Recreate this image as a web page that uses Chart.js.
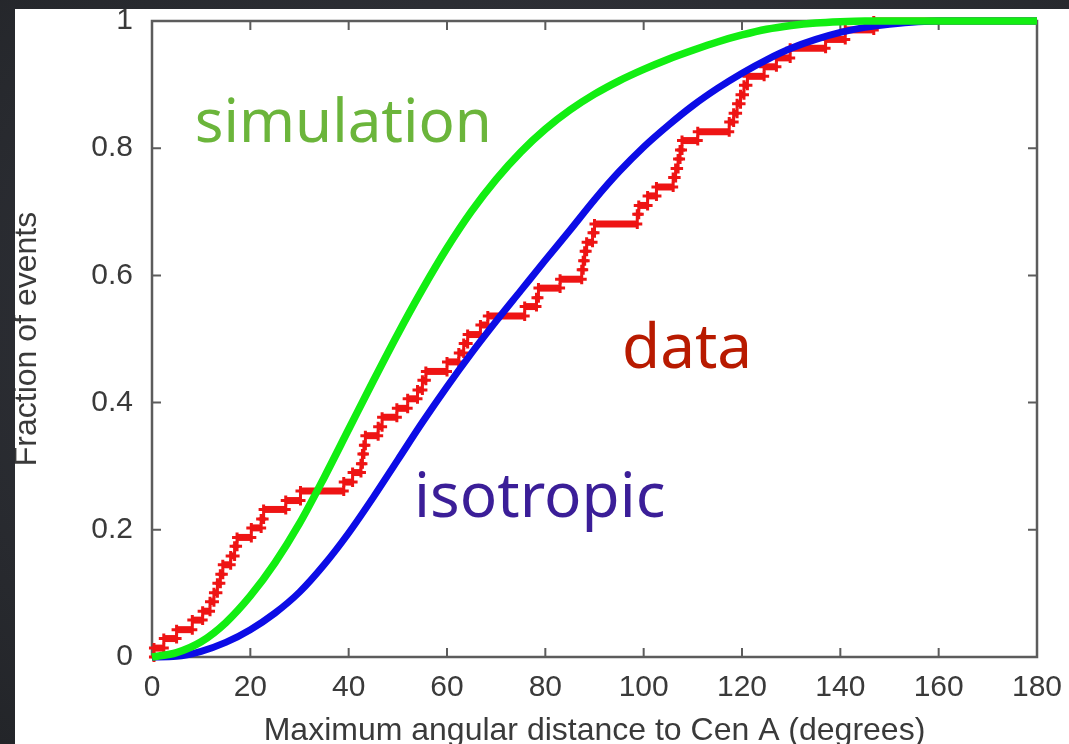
<!DOCTYPE html>
<html>
<head>
<meta charset="utf-8">
<script src="https://cdn.jsdelivr.net/npm/chart.js@4.4.1/dist/chart.umd.min.js"></script>
<style>
  html, body { margin: 0; padding: 0; }
  body {
    width: 1069px; height: 744px; overflow: hidden; position: relative;
    background: radial-gradient(ellipse at 55% 45%, #36383f 0%, #2c2e34 60%, #232529 100%);
  }
  #panel { position: absolute; left: 15px; top: 9px; width: 1054px; height: 735px; background: #ffffff; }
  canvas { display: block; }
</style>
</head>
<body>
<div id="panel"><canvas id="cdf" width="1054" height="735"></canvas></div>
<script>
// Axis ticks
const angleTicks = [0, 20, 40, 60, 80, 100, 120, 140, 160, 180];
const fractionTicks = [0, 0.2, 0.4, 0.6, 0.8, 1];
const fractionTickLabels = ['0', '0.2', '0.4', '0.6', '0.8', '1'];

// Smooth expectation curves (cumulative fraction vs. maximum angle)
const curveAngle = [0, 5, 10, 15, 20, 25, 30, 35, 40, 45, 50, 55, 60, 65, 70, 75, 80, 85, 90, 95,
                    100, 105, 110, 115, 120, 125, 130, 135, 140, 145, 150, 160, 170, 180];
const isotropicFraction = [0, 0.001, 0.009, 0.023, 0.043, 0.069, 0.102, 0.145, 0.195, 0.251,
                           0.310, 0.369, 0.425, 0.478, 0.528, 0.576, 0.624, 0.671, 0.719, 0.763,
                           0.802, 0.836, 0.867, 0.894, 0.918, 0.939, 0.957, 0.971, 0.982, 0.990,
                           0.995, 1, 1, 1];
const simulationFraction = [0, 0.007, 0.024, 0.054, 0.096, 0.148, 0.210, 0.282, 0.358, 0.434,
                            0.508, 0.578, 0.643, 0.701, 0.751, 0.794, 0.830, 0.860, 0.885, 0.906,
                            0.924, 0.940, 0.954, 0.967, 0.978, 0.987, 0.993, 0.997, 0.999, 1,
                            1, 1, 1, 1];

// Observed events: angle at which each step occurs and the cumulative fraction after it
const eventAngle = [0.4, 2.4, 5.0, 8.2, 10.3, 11.8, 12.6, 13.3, 13.9, 14.4,
                    16.0, 16.8, 17.3, 20.2, 22.2, 22.7, 27.2, 30.2, 39.0, 40.8,
                    42.5, 42.8, 43.1, 43.4, 46.0, 46.8, 49.8, 52.0, 54.0, 55.0,
                    55.7, 60.0, 62.4, 63.4, 64.2, 66.8, 68.3, 75.8, 78.2, 78.6,
                    83.0, 87.4, 87.7, 88.0, 88.4, 89.6, 90.0, 98.7, 99.0, 100.8,
                    102.6, 106.0, 106.5, 107.0, 107.4, 107.8, 111.0, 117.4, 118.3, 119.0,
                    119.7, 120.4, 121.1, 124.5, 127.0, 129.8, 137.0, 141.0, 146.8];
const eventFraction = [0.014, 0.029, 0.043, 0.058, 0.072, 0.087, 0.101, 0.116, 0.130, 0.145,
                       0.159, 0.174, 0.188, 0.203, 0.217, 0.232, 0.246, 0.261, 0.275, 0.290,
                       0.304, 0.319, 0.333, 0.348, 0.362, 0.377, 0.391, 0.406, 0.420, 0.435,
                       0.449, 0.464, 0.478, 0.493, 0.507, 0.522, 0.536, 0.551, 0.565, 0.580,
                       0.594, 0.609, 0.623, 0.638, 0.652, 0.667, 0.681, 0.696, 0.710, 0.725,
                       0.739, 0.754, 0.768, 0.783, 0.797, 0.812, 0.826, 0.841, 0.855, 0.870,
                       0.884, 0.899, 0.913, 0.928, 0.942, 0.957, 0.971, 0.986, 1.000];

const RED = '#ee1414', GREEN = '#12ee12', BLUE = '#0c0ce6';
const TEXT = '#3a3a3a';
const SANS = '"Liberation Sans", Arial, sans-serif';

// Staircase corners for the observed cumulative distribution
const stairs = [{ x: 0, y: 0 }];
let level = 0;
eventAngle.forEach((a, i) => {
  stairs.push({ x: a, y: level });
  level = eventFraction[i];
  stairs.push({ x: a, y: level });
});
stairs.push({ x: 180, y: level });

const pairs = (xs, ys) => xs.map((x, i) => ({ x, y: ys[i] }));

// Boxed frame with inward ticks on all four sides
const framePlugin = {
  id: 'frame',
  beforeDatasetsDraw(chart) {
    const { ctx, chartArea: a, scales: { x, y } } = chart;
    ctx.save();
    ctx.strokeStyle = '#5c5c5c';
    ctx.lineWidth = 2.5;
    ctx.strokeRect(a.left, a.top, a.right - a.left, a.bottom - a.top);
    ctx.lineWidth = 2;
    ctx.beginPath();
    angleTicks.forEach(v => {
      const px = x.getPixelForValue(v);
      ctx.moveTo(px, a.bottom); ctx.lineTo(px, a.bottom - 9);
      ctx.moveTo(px, a.top); ctx.lineTo(px, a.top + 9);
    });
    fractionTicks.forEach(v => {
      const py = y.getPixelForValue(v);
      ctx.moveTo(a.left, py); ctx.lineTo(a.left + 9, py);
      ctx.moveTo(a.right, py); ctx.lineTo(a.right - 9, py);
    });
    ctx.stroke();
    ctx.restore();
  }
};

// Curve names written inside the plot
const curveNotes = [
  { text: 'simulation', angle: 8.7, fraction: 0.81, color: '#6bb53b', size: 60 },
  { text: 'data', angle: 95.6, fraction: 0.454, color: '#b81a00', size: 62 },
  { text: 'isotropic', angle: 53.3, fraction: 0.22, color: '#3b1e98', size: 62 }
];
const notePlugin = {
  id: 'notes',
  afterDatasetsDraw(chart) {
    const { ctx, scales: { x, y } } = chart;
    ctx.save();
    ctx.textBaseline = 'alphabetic';
    ctx.textAlign = 'left';
    curveNotes.forEach(n => {
      ctx.font = n.size + 'px "Noto Sans", sans-serif';
      ctx.fillStyle = n.color;
      ctx.fillText(n.text, x.getPixelForValue(n.angle), y.getPixelForValue(n.fraction));
    });
    ctx.restore();
  }
};

new Chart(document.getElementById('cdf'), {
  type: 'line',
  data: {
    datasets: [
      {
        label: 'simulation',
        data: pairs(curveAngle, simulationFraction),
        borderColor: GREEN, borderWidth: 7.5, pointRadius: 0,
        cubicInterpolationMode: 'monotone', clip: 10
      },
      {
        label: 'isotropic',
        data: pairs(curveAngle, isotropicFraction),
        borderColor: BLUE, borderWidth: 7, pointRadius: 0,
        cubicInterpolationMode: 'monotone', clip: 10
      },
      {
        label: 'data',
        data: stairs,
        borderColor: RED, borderWidth: 7,
        segment: {
          borderColor: c => (c.p0.parsed.y === c.p1.parsed.y ? RED : 'rgba(0,0,0,0)')
        },
        pointStyle: 'cross',
        pointRadius: c => (c.dataIndex === 0 || c.dataIndex === stairs.length - 1 ? 0 : 5),
        pointBorderColor: RED, pointBorderWidth: 3,
        tension: 0, clip: 10
      }
    ]
  },
  options: {
    responsive: false,
    animation: false,
    devicePixelRatio: 1,
    layout: { padding: { left: 0, top: 12, right: 32, bottom: 0 } },
    plugins: { legend: { display: false }, tooltip: { enabled: false } },
    scales: {
      x: {
        type: 'linear', position: 'bottom', min: 0, max: 180,
        grid: { display: false, drawTicks: false },
        border: { display: false },
        afterBuildTicks: s => { s.ticks = angleTicks.map(v => ({ value: v })); },
        afterFit: s => { s.height = 87; s.paddingLeft = 0; s.paddingRight = 0; },
        ticks: {
          color: TEXT, padding: 13, maxRotation: 0, autoSkip: false,
          font: { family: SANS, size: 30 },
          callback: v => String(v)
        },
        title: {
          display: true, text: 'Maximum angular distance to Cen A (degrees)',
          color: TEXT, font: { family: SANS, size: 32, lineHeight: 1 },
          padding: { top: 0, bottom: -3 }
        }
      },
      y: {
        type: 'linear', position: 'left', min: 0, max: 1,
        grid: { display: false, drawTicks: false },
        border: { display: false },
        afterBuildTicks: s => { s.ticks = fractionTicks.map(v => ({ value: v })); },
        afterFit: s => { s.width = 137; s.paddingTop = 0; s.paddingBottom = 0; },
        ticks: {
          color: TEXT, padding: 19,
          font: { family: SANS, size: 30 },
          callback: (v, i) => fractionTickLabels[i]
        },
        title: {
          display: true, text: 'Fraction of events',
          color: TEXT, font: { family: SANS, size: 32, lineHeight: 1 },
          padding: { top: -4, bottom: 0 }
        }
      }
    }
  },
  plugins: [framePlugin, notePlugin]
});
</script>
</body>
</html>
